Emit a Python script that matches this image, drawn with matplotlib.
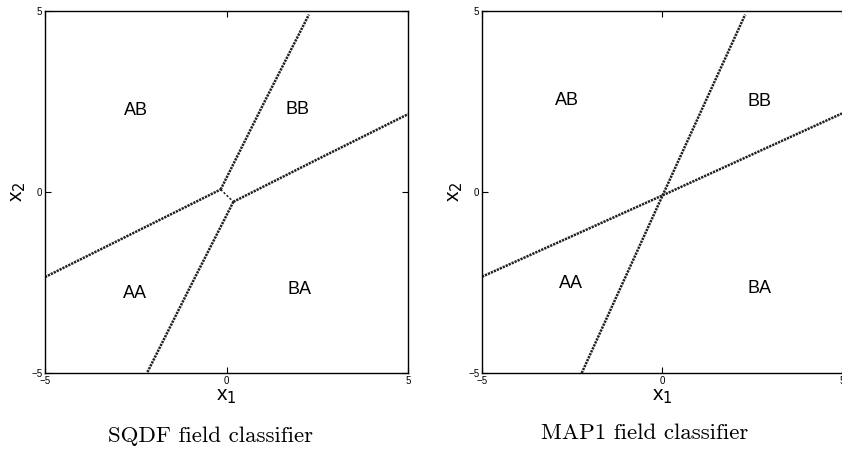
import numpy as np
import matplotlib.pyplot as plt

# boundary segments (x1, x2 pairs)
sqdf_steep_up_x = [-0.16, 1.0, 2.27]
sqdf_steep_up_y = [0.07, 2.40, 4.90]
sqdf_steep_dn_x = [0.19, -1.0, -2.19]
sqdf_steep_dn_y = [-0.27, -2.62, -5.0]
sqdf_flat_l_x = [-5.0, -2.5, -0.16]
sqdf_flat_l_y = [-2.35, -1.10, 0.07]
sqdf_flat_r_x = [0.19, 2.5, 5.0]
sqdf_flat_r_y = [-0.27, 0.90, 2.15]
sqdf_link_x = [-0.16, 0.19]
sqdf_link_y = [0.07, -0.27]

map1_steep_x = [-2.23, 0.0, 2.31]
map1_steep_y = [-5.0, -0.13, 4.90]
map1_flat_x = [-5.0, 0.0, 5.0]
map1_flat_y = [-2.34, -0.10, 2.17]

region_names = ['AB', 'BB', 'AA', 'BA']
sqdf_label_x = [-2.5, 1.96, -2.52, 2.0]
sqdf_label_y = [2.24, 2.27, -2.8, -2.7]
map1_label_x = [-2.65, 2.72, -2.54, 2.70]
map1_label_y = [2.54, 2.50, -2.54, -2.66]

ticks = [-5, 0, 5]
tick_labels = ['\u22125', '0', '5']
captions = ['SQDF field classifier', 'MAP1 field classifier']

line_kw = dict(color='#202020', lw=1.8, ls=(0, (0.9, 0.4)), solid_capstyle='butt')

fig = plt.figure(figsize=(8.42, 4.49), dpi=100)
ax1 = fig.add_axes([45 / 842, 76 / 449, 363 / 842, 362 / 449])
ax2 = fig.add_axes([482 / 842, 76 / 449, 360 / 842, 362 / 449])

ax1.plot(sqdf_steep_up_x, sqdf_steep_up_y, **line_kw)
ax1.plot(sqdf_steep_dn_x, sqdf_steep_dn_y, **line_kw)
ax1.plot(sqdf_flat_l_x, sqdf_flat_l_y, **line_kw)
ax1.plot(sqdf_flat_r_x, sqdf_flat_r_y, **line_kw)
ax1.plot(sqdf_link_x, sqdf_link_y, color='#202020', lw=1.1, ls=(0, (1.5, 1.2)))

ax2.plot(map1_steep_x, map1_steep_y, **line_kw)
ax2.plot(map1_flat_x, map1_flat_y, **line_kw)

for ax, lx, ly in [(ax1, sqdf_label_x, sqdf_label_y), (ax2, map1_label_x, map1_label_y)]:
    for name, x, y in zip(region_names, lx, ly):
        ax.text(x, y, name, ha='center', va='center', fontsize=13,
                family='Liberation Sans')

for ax in (ax1, ax2):
    ax.set_xlim(-5, 5)
    ax.set_ylim(-5, 5)
    ax.set_xticks(ticks)
    ax.set_yticks(ticks)
    ax.set_xticklabels(tick_labels, family='Liberation Sans', fontsize=7)
    ax.set_yticklabels(tick_labels, family='Liberation Sans', fontsize=7)
    ax.tick_params(direction='in', length=4, width=0.8, pad=2,
                   top=True, right=True)
    for s in ax.spines.values():
        s.set_linewidth(1.0)
    ax.set_xlabel('x$_1$', family='Liberation Sans', fontsize=15, labelpad=1)
    ax.set_ylabel('x$_2$', family='Liberation Sans', fontsize=15, labelpad=2)

# right panel is cut at the image border
ax2.spines['right'].set_visible(False)
ax2.tick_params(right=False)

fig.text(210 / 842, 1 - 436 / 449, captions[0], ha='center', va='center',
         family='cmr10', fontsize=16.5)
fig.text(645 / 842, 1 - 433 / 449, captions[1], ha='center', va='center',
         family='cmr10', fontsize=16.5)

fig.savefig('out.png', dpi=100)
